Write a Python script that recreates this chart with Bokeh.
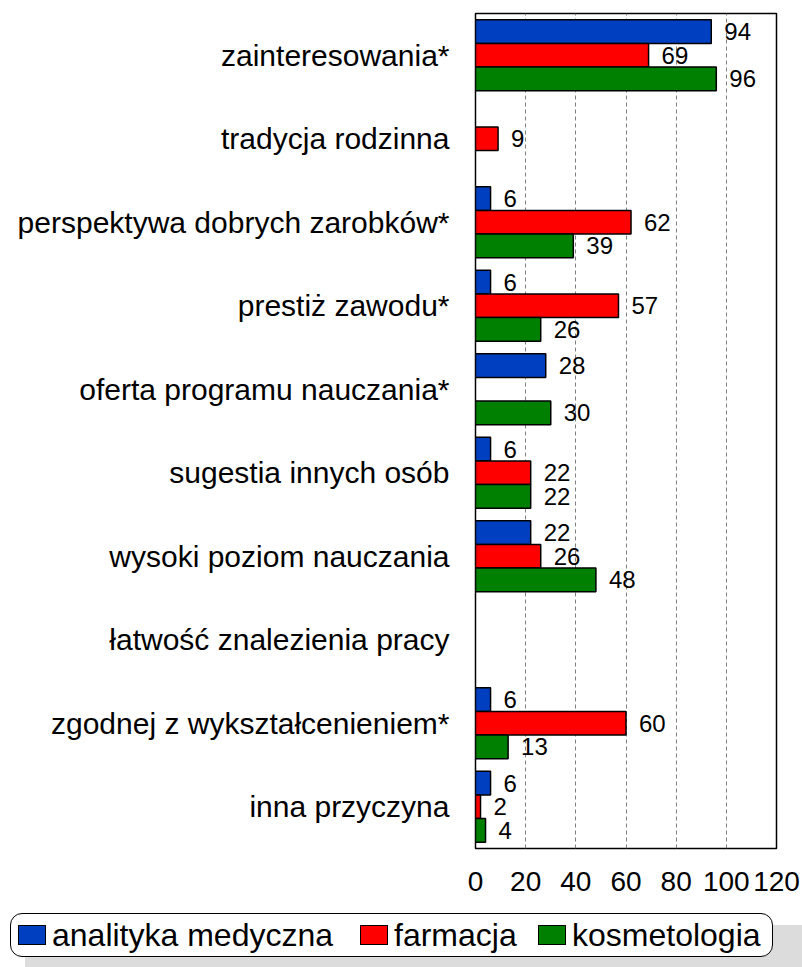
from bokeh.plotting import figure
from bokeh.models import ColumnDataSource, FactorRange, Range1d, FixedTicker, Div
from bokeh.transform import dodge
from bokeh.layouts import column
from bokeh.embed import file_html
from bokeh.resources import INLINE
from bokeh.core.properties import value

categories = ["zainteresowania*", "tradycja rodzinna", "perspektywa dobrych zarobków*",
              "prestiż zawodu*", "oferta programu nauczania*", "sugestia innych osób",
              "wysoki poziom nauczania", "łatwość znalezienia pracy",
              "zgodnej z wykształcenieniem*", "inna przyczyna"]
analityka = [94, None, 6, 6, 28, 6, 22, None, 6, 6]
farmacja = [69, 9, 62, 57, None, 22, 26, None, 60, 2]
kosmetologia = [96, None, 39, 26, 30, 22, 48, None, 13, 4]
series_names = ["analityka medyczna", "farmacja", "kosmetologia"]
series_values = [analityka, farmacja, kosmetologia]
colors = ["#0040C0", "#FF0000", "#008000"]
x_ticks = [0, 20, 40, 60, 80, 100, 120]

FONT = value("Liberation Sans")
BAR_H = 0.283
offsets = [BAR_H, 0.0, -BAR_H]

p = figure(width=802, height=900,
           y_range=FactorRange(factors=categories[::-1]),
           x_range=Range1d(0, 120),
           output_backend="svg", toolbar_location=None,
           min_border_left=475, min_border_right=26,
           min_border_top=13, min_border_bottom=52)

for vals, col, off in zip(series_values, colors, offsets):
    cats = [c for c, v in zip(categories, vals) if v is not None]
    vs = [v for v in vals if v is not None]
    src = ColumnDataSource(dict(cat=cats, val=vs, lbl=[str(v) for v in vs]))
    p.hbar(y=dodge("cat", off, range=p.y_range), left=0, right="val", height=BAR_H,
           fill_color=col, line_color="black", line_width=1.5, source=src)
    p.text(x="val", y=dodge("cat", off, range=p.y_range), text="lbl", source=src,
           x_offset=13, text_baseline="middle", text_align="left",
           text_font_size="24px", text_font=FONT, text_color="black")

p.outline_line_color = "black"
p.outline_line_width = 1.5
p.ygrid.grid_line_color = None
p.xgrid.grid_line_color = "#808080"
p.xgrid.grid_line_dash = "4 3"
p.xgrid.grid_line_width = 1

p.xaxis.ticker = FixedTicker(ticks=x_ticks)
p.xaxis.axis_line_color = None
p.xaxis.major_tick_line_color = None
p.xaxis.minor_tick_line_color = None
p.xaxis.major_label_text_font_size = "28px"
p.xaxis.major_label_text_font = "Liberation Sans"
p.xaxis.major_label_text_color = "black"
p.xaxis.major_label_standoff = 17

p.yaxis.axis_line_color = None
p.yaxis.major_tick_line_color = None
p.yaxis.minor_tick_line_color = None
p.yaxis.major_label_text_font_size = "30px"
p.yaxis.major_label_text_font = "Liberation Sans"
p.yaxis.major_label_text_color = "black"
p.yaxis.major_label_standoff = 20

# legend panel as HTML (rounded box with shadow)
swatch_left = [18, 360, 538]
parts = [
    '<div style="position:relative;width:802px;height:67px;overflow:hidden;'
    'font-family:\'Liberation Sans\',Arial,sans-serif;">',
    '<div style="position:absolute;left:25px;top:25px;width:777px;height:42px;'
    'background:#dcdcdc;"></div>',
    '<div style="position:absolute;left:10px;top:13px;width:763px;height:44px;'
    'box-sizing:border-box;border:1.5px solid black;border-radius:12px;'
    'background:white;"></div>',
]
for name, col, x in zip(series_names, colors, swatch_left):
    parts.append(
        f'<div style="position:absolute;left:{x}px;top:25px;width:28px;height:20px;'
        f'box-sizing:border-box;border:1.5px solid black;background:{col};"></div>')
    parts.append(
        f'<div style="position:absolute;left:{x + 34}px;top:35px;transform:translateY(-50%);'
        f'font-size:32px;line-height:1;color:black;white-space:nowrap;">{name}</div>')
parts.append('</div>')
legend_div = Div(text="".join(parts), width=802, height=67, margin=0)

layout = column(p, legend_div, spacing=0)
open("out.html", "w").write(file_html(layout, INLINE))
